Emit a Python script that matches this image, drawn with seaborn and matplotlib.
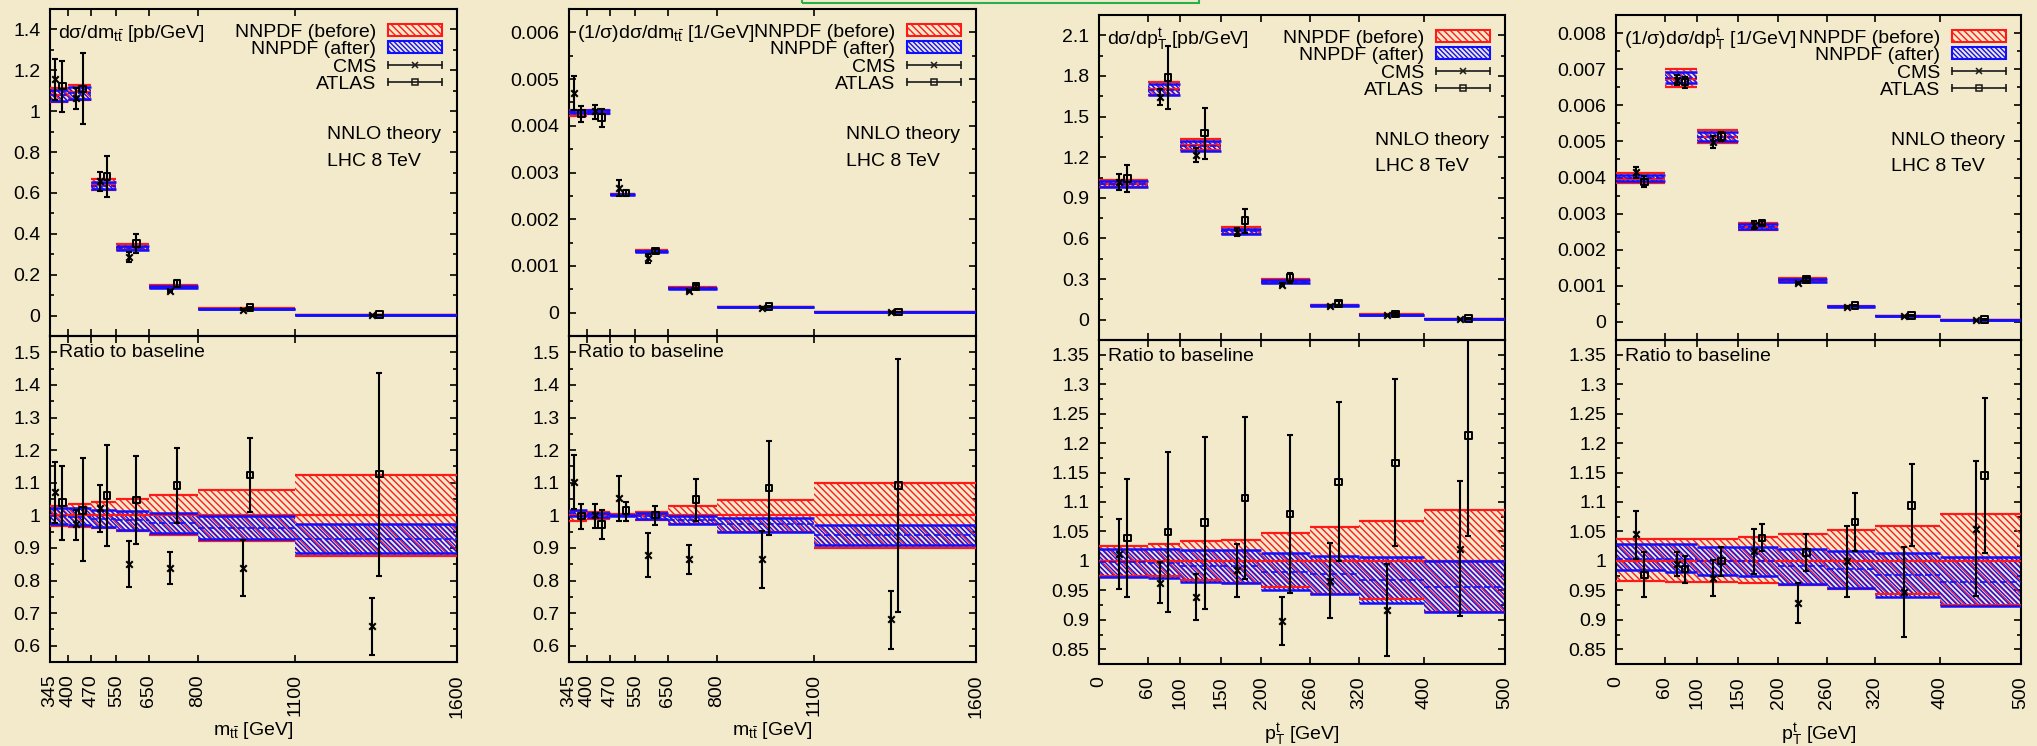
import numpy as np
import matplotlib
matplotlib.use("Agg")
import matplotlib.pyplot as plt
import seaborn as sns
from matplotlib.lines import Line2D
from matplotlib.patches import Patch, Rectangle
from matplotlib.legend_handler import HandlerBase
from matplotlib.ticker import FixedLocator, MultipleLocator, FuncFormatter

# ---------------- data ----------------
mtt_edges = [345, 400, 470, 550, 650, 800, 1100, 1600]
pt_edges = [0, 60, 100, 150, 200, 260, 320, 400, 500]

# panel 1 : d sigma / d m_tt  (absolute)  -- baseline values, ratios to baseline
m_abs_base = [1.080, 1.093, 0.642, 0.336, 0.143, 0.034, 0.0035]
m_abs_before_lo = [0.967, 0.964, 0.960, 0.951, 0.939, 0.920, 0.874]
m_abs_before_hi = [1.029, 1.034, 1.042, 1.049, 1.061, 1.079, 1.125]
m_abs_after_lo = [0.974, 0.971, 0.964, 0.956, 0.945, 0.926, 0.884]
m_abs_after_hi = [1.023, 1.021, 1.017, 1.014, 1.008, 0.999, 0.974]
m_abs_after_c = [0.998, 0.996, 0.990, 0.985, 0.977, 0.962, 0.928]
m_abs_cms = [1.070, 0.974, 1.023, 0.851, 0.839, 0.839, 0.659]
m_abs_cms_lo = [0.976, 0.923, 0.949, 0.781, 0.790, 0.751, 0.572]
m_abs_cms_hi = [1.162, 1.017, 1.093, 0.921, 0.887, 0.923, 0.745]
m_abs_atlas = [1.039, 1.015, 1.061, 1.047, 1.092, 1.124, 1.127]
m_abs_atlas_lo = [0.923, 0.859, 0.905, 0.912, 0.977, 1.010, 0.814]
m_abs_atlas_hi = [1.152, 1.175, 1.216, 1.183, 1.207, 1.238, 1.438]

# panel 2 : (1/sigma) d sigma / d m_tt
m_norm_base = [0.00427, 0.00430, 0.00253, 0.00132, 0.000531, 0.000123, 0.0000135]
m_norm_before_lo = [0.984, 0.990, 0.997, 0.987, 0.972, 0.950, 0.900]
m_norm_before_hi = [1.014, 1.009, 1.003, 1.011, 1.028, 1.048, 1.098]
m_norm_after_lo = [0.999, 0.995, 0.997, 0.989, 0.973, 0.950, 0.908]
m_norm_after_hi = [1.015, 1.008, 1.002, 1.006, 0.998, 0.993, 0.969]
m_norm_after_c = [1.007, 1.001, 0.999, 0.997, 0.985, 0.972, 0.940]
m_norm_cms = [1.103, 1.002, 1.053, 0.879, 0.866, 0.866, 0.681]
m_norm_cms_lo = [1.018, 0.962, 0.984, 0.810, 0.821, 0.778, 0.591]
m_norm_cms_hi = [1.185, 1.036, 1.121, 0.947, 0.908, 0.953, 0.768]
m_norm_atlas = [0.998, 0.971, 1.014, 1.001, 1.048, 1.083, 1.092]
m_norm_atlas_lo = [0.957, 0.926, 0.983, 0.971, 0.983, 0.940, 0.702]
m_norm_atlas_hi = [1.036, 1.015, 1.041, 1.029, 1.112, 1.227, 1.478]

# panel 3 : d sigma / d pT  (absolute)
p_abs_base = [1.004, 1.705, 1.293, 0.660, 0.287, 0.106, 0.037, 0.0075]
p_abs_before_lo = [0.975, 0.974, 0.967, 0.963, 0.955, 0.944, 0.936, 0.914]
p_abs_before_hi = [1.026, 1.028, 1.034, 1.036, 1.047, 1.057, 1.067, 1.087]
p_abs_after_lo = [0.973, 0.971, 0.965, 0.963, 0.951, 0.944, 0.928, 0.913]
p_abs_after_hi = [1.021, 1.021, 1.019, 1.019, 1.014, 1.009, 1.006, 0.999]
p_abs_after_c = [0.998, 0.996, 0.992, 0.991, 0.982, 0.977, 0.968, 0.956]
p_abs_cms = [1.012, 0.963, 0.939, 0.985, 0.898, 0.966, 0.916, 1.020]
p_abs_cms_lo = [0.953, 0.928, 0.900, 0.939, 0.858, 0.903, 0.838, 0.907]
p_abs_cms_hi = [1.071, 0.998, 0.978, 1.029, 0.939, 1.030, 0.995, 1.135]
p_abs_atlas = [1.039, 1.049, 1.065, 1.107, 1.080, 1.134, 1.166, 1.213]
p_abs_atlas_lo = [0.938, 0.914, 0.919, 0.970, 0.946, 1.000, 1.025, 1.042]
p_abs_atlas_hi = [1.139, 1.185, 1.211, 1.244, 1.213, 1.269, 1.308, 1.410]

# panel 4 : (1/sigma) d sigma / d pT
p_norm_base = [0.00397, 0.00674, 0.00513, 0.00264, 0.00116, 0.000425, 0.000166, 0.000055]
p_norm_before_lo = [0.966, 0.965, 0.965, 0.963, 0.959, 0.953, 0.944, 0.926]
p_norm_before_hi = [1.038, 1.038, 1.038, 1.040, 1.045, 1.053, 1.060, 1.079]
p_norm_after_lo = [0.984, 0.982, 0.976, 0.975, 0.960, 0.954, 0.938, 0.924]
p_norm_after_hi = [1.028, 1.028, 1.024, 1.024, 1.020, 1.017, 1.014, 1.007]
p_norm_after_c = [1.004, 1.003, 1.000, 0.999, 0.991, 0.987, 0.976, 0.965]
p_norm_cms = [1.046, 0.995, 0.971, 1.017, 0.929, 0.999, 0.947, 1.055]
p_norm_cms_lo = [1.004, 0.974, 0.940, 0.978, 0.895, 0.939, 0.871, 0.940]
p_norm_cms_hi = [1.084, 1.015, 1.002, 1.054, 0.962, 1.059, 1.023, 1.169]
p_norm_atlas = [0.976, 0.986, 1.000, 1.039, 1.014, 1.066, 1.094, 1.145]
p_norm_atlas_lo = [0.938, 0.962, 0.975, 1.016, 0.983, 1.017, 1.025, 1.013]
p_norm_atlas_hi = [1.015, 1.008, 1.023, 1.062, 1.045, 1.115, 1.165, 1.277]

titles = ["dσ/dm$_{\\mathrm{t\\bar{t}}}$ [pb/GeV]",
          "(1/σ)dσ/dm$_{\\mathrm{t\\bar{t}}}$ [1/GeV]",
          "dσ/dp$_{\\mathrm{T}}^{\\mathrm{t}}$ [pb/GeV]",
          "(1/σ)dσ/dp$_{\\mathrm{T}}^{\\mathrm{t}}$ [1/GeV]"]
xlabels = ["m$_{\\mathrm{t\\bar{t}}}$ [GeV]", "m$_{\\mathrm{t\\bar{t}}}$ [GeV]",
           "p$_{\\mathrm{T}}^{\\mathrm{t}}$ [GeV]", "p$_{\\mathrm{T}}^{\\mathrm{t}}$ [GeV]"]
legend_labels = ["NNPDF (before)", "NNPDF (after)", "CMS", "ATLAS"]

# ---------------- style ----------------
BG = "#F2EACB"
RED = "#FF1A1A"
BLUE = "#1010FF"
RED_HATCH = "\\\\\\\\\\"
BLUE_HATCH = "\\\\\\\\\\\\\\"
FS = 14

sns.set_theme(style="ticks")
plt.rcParams.update({
    "font.family": ["Liberation Sans", "DejaVu Sans"],
    "mathtext.fontset": "custom",
    "mathtext.rm": "Liberation Sans",
    "mathtext.it": "Liberation Sans:italic",
    "mathtext.bf": "Liberation Sans:bold",
    "hatch.linewidth": 1.0,
    "axes.linewidth": 1.5,
    "figure.facecolor": BG,
    "axes.facecolor": "none",
    "savefig.facecolor": BG,
    "text.color": "black",
    "axes.labelcolor": "black",
    "xtick.color": "black",
    "ytick.color": "black",
})

W, H = 2037, 746
fig = plt.figure(figsize=(W / 100, H / 100), dpi=100)


def rect(x0, x1, y0, y1):
    return [x0 / W, 1 - y1 / H, (x1 - x0) / W, (y1 - y0) / H]


panels = [
    dict(edges=mtt_edges, off=11, x=(50, 457), yt=(9, 336), yb=(336, 662),
         base=m_abs_base, blo=m_abs_before_lo, bhi=m_abs_before_hi,
         alo=m_abs_after_lo, ahi=m_abs_after_hi, ac=m_abs_after_c,
         cms=m_abs_cms, cms_lo=m_abs_cms_lo, cms_hi=m_abs_cms_hi,
         atl=m_abs_atlas, atl_lo=m_abs_atlas_lo, atl_hi=m_abs_atlas_hi,
         ylim=(-0.1, 1.5), major=0.2, minor=0.1, rlim=(0.55, 1.55), rmajor=0.1, rminor=0.05),
    dict(edges=mtt_edges, off=11, x=(569, 976), yt=(9, 336), yb=(336, 662),
         base=m_norm_base, blo=m_norm_before_lo, bhi=m_norm_before_hi,
         alo=m_norm_after_lo, ahi=m_norm_after_hi, ac=m_norm_after_c,
         cms=m_norm_cms, cms_lo=m_norm_cms_lo, cms_hi=m_norm_cms_hi,
         atl=m_norm_atlas, atl_lo=m_norm_atlas_lo, atl_hi=m_norm_atlas_hi,
         ylim=(-0.0005, 0.0065), major=0.001, minor=0.0005, rlim=(0.55, 1.55), rmajor=0.1, rminor=0.05),
    dict(edges=pt_edges, off=5, x=(1099, 1505), yt=(15, 340), yb=(340, 664),
         base=p_abs_base, blo=p_abs_before_lo, bhi=p_abs_before_hi,
         alo=p_abs_after_lo, ahi=p_abs_after_hi, ac=p_abs_after_c,
         cms=p_abs_cms, cms_lo=p_abs_cms_lo, cms_hi=p_abs_cms_hi,
         atl=p_abs_atlas, atl_lo=p_abs_atlas_lo, atl_hi=p_abs_atlas_hi,
         ylim=(-0.15, 2.25), major=0.3, minor=0.15, rlim=(0.825, 1.375), rmajor=0.05, rminor=0.025),
    dict(edges=pt_edges, off=5, x=(1616, 2021), yt=(15, 340), yb=(340, 664),
         base=p_norm_base, blo=p_norm_before_lo, bhi=p_norm_before_hi,
         alo=p_norm_after_lo, ahi=p_norm_after_hi, ac=p_norm_after_c,
         cms=p_norm_cms, cms_lo=p_norm_cms_lo, cms_hi=p_norm_cms_hi,
         atl=p_norm_atlas, atl_lo=p_norm_atlas_lo, atl_hi=p_norm_atlas_hi,
         ylim=(-0.0005, 0.0085), major=0.001, minor=0.0005, rlim=(0.825, 1.375), rmajor=0.05, rminor=0.025),
]


class CapLineHandler(HandlerBase):
    def create_artists(self, legend, orig_handle, xdescent, ydescent, width, height, fontsize, trans):
        y = height / 2 - ydescent
        x0, x1 = -xdescent, width - xdescent
        line = Line2D([x0, x1], [y, y], color="k", lw=1.2, transform=trans)
        caps = Line2D([x0, x1], [y, y], ls="none", marker="|", markersize=6,
                      markeredgewidth=1.2, color="k", transform=trans)
        mk = Line2D([(x0 + x1) / 2], [y], ls="none", marker=orig_handle.get_marker(),
                    markersize=4.5, markerfacecolor="none", markeredgecolor="k",
                    markeredgewidth=1.1, transform=trans)
        return [line, caps, mk]


fmt = FuncFormatter(lambda v, p: "%g" % (round(v, 7) + 0.0))


def style_axis(ax, edges, major, minor, show_xlabels):
    ax.set_xlim(edges[0], edges[-1])
    ax.xaxis.set_major_locator(FixedLocator(edges))
    ax.yaxis.set_major_locator(MultipleLocator(major))
    ax.yaxis.set_minor_locator(MultipleLocator(minor))
    ax.yaxis.set_major_formatter(fmt)
    ax.tick_params(which="both", direction="in", top=True, right=True, width=1.2,
                   labelsize=FS, pad=7)
    ax.tick_params(which="major", length=5)
    ax.tick_params(which="minor", length=3)
    ax.tick_params(axis="x", which="minor", bottom=False, top=False)
    if show_xlabels:
        ax.set_xticks(edges)
        ax.set_xticklabels([str(e) for e in edges], rotation=90)
        ax.tick_params(axis="x", pad=9)
    else:
        ax.tick_params(axis="x", labelbottom=False)
    for s in ax.spines.values():
        s.set_linewidth(1.5)
        s.set_color("black")


def draw(ax, P, scale):
    edges = P["edges"]
    n = len(P["base"])
    base = np.asarray(P["base"]) if scale else np.ones(n)
    for i in range(n):
        xs = [edges[i], edges[i + 1]]
        b = base[i]
        ax.fill_between(xs, P["blo"][i] * b, P["bhi"][i] * b, facecolor="none",
                        edgecolor=RED, hatch=RED_HATCH, linewidth=0, zorder=1)
        ax.fill_between(xs, P["alo"][i] * b, P["ahi"][i] * b, facecolor="none",
                        edgecolor=BLUE, hatch=BLUE_HATCH, linewidth=0, zorder=2)
        ax.hlines([P["blo"][i] * b, P["bhi"][i] * b, b], xs[0], xs[1], colors=RED, lw=1.6, zorder=3)
        ax.hlines([P["alo"][i] * b, P["ahi"][i] * b], xs[0], xs[1], colors=BLUE, lw=1.8, zorder=4)
        ax.hlines(P["ac"][i] * b, xs[0], xs[1], colors=BLUE, lw=1.2,
                  linestyles=(0, (4, 2)), zorder=4)
    centers = (np.asarray(edges[:-1]) + np.asarray(edges[1:])) / 2
    for key, dx, mk in (("cms", -P["off"], "x"), ("atl", P["off"], "s")):
        v = np.asarray(P[key]) * base
        lo = np.asarray(P[key + "_lo"]) * base
        hi = np.asarray(P[key + "_hi"]) * base
        xp = centers + dx
        ax.errorbar(xp, v, yerr=[v - lo, hi - v], fmt="none", ecolor="black",
                    elinewidth=1.5, capsize=2.5, capthick=1.5, zorder=5)
        if mk == "x":
            sns.scatterplot(x=xp, y=v, marker="x", color="black", s=22, linewidth=1.5,
                            ax=ax, legend=False, zorder=6)
        else:
            sns.scatterplot(x=xp, y=v, marker="s", facecolor="none", edgecolor="black",
                            s=22, linewidth=1.4, ax=ax, legend=False, zorder=6)


for k, P in enumerate(panels):
    x0, x1 = P["x"]
    axt = fig.add_axes(rect(x0, x1, *P["yt"]))
    axb = fig.add_axes(rect(x0, x1, *P["yb"]))

    draw(axt, P, True)
    draw(axb, P, False)
    axt.set_ylim(*P["ylim"])
    axb.set_ylim(*P["rlim"])
    style_axis(axt, P["edges"], P["major"], P["minor"], False)
    style_axis(axb, P["edges"], P["rmajor"], P["rminor"], True)
    axb.set_xlabel(xlabels[k], fontsize=FS, va="top")
    axb.xaxis.set_label_coords(0.5, -0.178)

    axt.text(0.02, 0.925, titles[k], transform=axt.transAxes, fontsize=FS,
             ha="left", va="center", zorder=10)
    axb.text(0.022, 0.948, "Ratio to baseline", transform=axb.transAxes, fontsize=FS,
             ha="left", va="center", zorder=10)
    axt.text(0.68, 0.615, "NNLO theory", transform=axt.transAxes, fontsize=FS,
             ha="left", va="center", zorder=10)
    axt.text(0.68, 0.533, "LHC 8 TeV", transform=axt.transAxes, fontsize=FS,
             ha="left", va="center", zorder=10)

    handles = [Patch(facecolor="none", edgecolor=RED, hatch=RED_HATCH, lw=1.5),
               Patch(facecolor="none", edgecolor=BLUE, hatch=BLUE_HATCH, lw=1.5),
               Line2D([], [], marker="x", color="k"),
               Line2D([], [], marker="s", color="k")]
    axt.legend(handles, legend_labels, loc="upper right", frameon=False, markerfirst=False,
               fontsize=FS, handlelength=2.8, handleheight=0.55, handletextpad=0.6,
               labelspacing=0.03, borderpad=0.0, borderaxespad=0.75,
               handler_map={Line2D: CapLineHandler()})

# green frame fragment at the top edge
fig.add_artist(Rectangle((802 / W, 1 - 2.5 / H), (1199 - 802) / W, 12 / H,
                         transform=fig.transFigure, fill=False, edgecolor="#27B04B",
                         lw=1.5, clip_on=False))

fig.savefig("out.png", dpi=100, facecolor=BG)
